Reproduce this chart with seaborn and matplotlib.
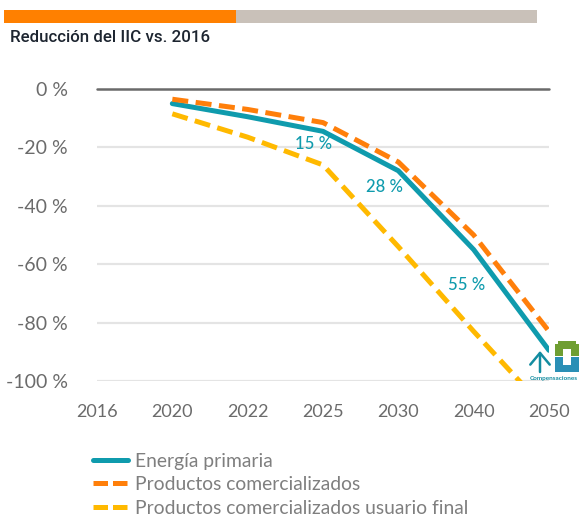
import matplotlib
matplotlib.use("Agg")
import matplotlib.pyplot as plt
from matplotlib.patches import Rectangle, FancyArrowPatch
import pandas as pd
import seaborn as sns

years = ["2016", "2020", "2022", "2025", "2030", "2040", "2050"]
line_years = ["2020", "2022", "2025", "2030", "2040", "2050"]
energia = [-5, -9.5, -14.5, -28, -55, -89.5]
comercial = [-3.5, -7, -11.5, -25, -50, -83]
usuario = [-8.5, -16.5, -26, -54, -83, -111]
yticks = [0, -20, -40, -60, -80, -100]
ylabels = ["0 %", "-20 %", "-40 %", "-60 %", "-80 %", "-100 %"]
notes = [("15 %", "2025", -19, -0.13), ("28 %", "2030", -33.5, -0.18), ("55 %", "2040", -67, -0.09)]
names = ["Energía primaria", "Productos comercializados", "Productos comercializados usuario final"]
colors = ["#0f9bad", "#ff7f0a", "#ffb900"]

W, H = 579, 518
sns.set_theme(style="white")
plt.rcParams["font.family"] = ["Lato", "DejaVu Sans"]
fig = plt.figure(figsize=(W / 100, H / 100), dpi=100, facecolor="white")
ax = fig.add_axes([97 / W, 1 - 381 / H, 452 / W, 292 / H])

df = pd.DataFrame({
    "pos": [years.index(y) for y in line_years] * 3,
    "value": energia + comercial + usuario,
    "serie": [n for n in names for _ in line_years],
})

for v in yticks[1:]:
    ax.axhline(v, color="#e4e4e4", lw=1.6, zorder=1)
ax.axhline(0, color="#6a6a6a", lw=1.8, zorder=1, clip_on=False)

sns.lineplot(data=df, x="pos", y="value", hue="serie", hue_order=names, palette=colors,
             style="serie", style_order=names,
             dashes={names[0]: (None, None), names[1]: (3.2, 1.5), names[2]: (3.2, 1.5)},
             linewidth=3.6, errorbar=None, ax=ax, legend=False, zorder=3)

ax.set_xlim(0, 6)
ax.set_ylim(-100, 0)
ax.set_xlabel("")
ax.set_ylabel("")
ax.set_xticks(range(len(years)))
ax.set_xticklabels(years, fontsize=13, color="#6b6b6b")
ax.set_yticks(yticks)
ax.set_yticklabels(ylabels, fontsize=14, color="#6b6b6b")
ax.tick_params(axis="both", length=0)
ax.tick_params(axis="x", pad=16.5)
ax.tick_params(axis="y", pad=21)
for s in ax.spines.values():
    s.set_visible(False)

for txt, y, val, dx in notes:
    ax.text(years.index(y) + dx, val, txt, color=colors[0], fontsize=12, ha="center",
            va="center", zorder=5, fontweight="medium")

# top band and title
fig.add_artist(Rectangle((4 / W, 1 - 23 / H), 232 / W, 13 / H, transform=fig.transFigure, color="#ff8000", lw=0))
fig.add_artist(Rectangle((236 / W, 1 - 23 / H), 301 / W, 13 / H, transform=fig.transFigure, color="#c9c1b9", lw=0))
fig.text(10 / W, 1 - 37.5 / H, "Reducción del IIC vs. 2016", fontsize=12.2, family=["Roboto", "DejaVu Sans"],
         fontweight="medium", color="#1d2530", va="center", ha="left")

# legend
handles = [plt.Line2D([0], [0], color=colors[0], lw=3.6),
           plt.Line2D([0], [0], color=colors[1], lw=3.6, dashes=(2.9, 1.0)),
           plt.Line2D([0], [0], color=colors[2], lw=3.6, dashes=(2.9, 1.0))]
fig.legend(handles, names, loc="upper left", bbox_to_anchor=(93 / W, 1 - 452.5 / H), frameon=False,
           fontsize=13.9, labelcolor="#7f7f7f", handlelength=1.8, handletextpad=0.36,
           labelspacing=0.34, borderpad=0, borderaxespad=0)

# compensation logo
def box(x0, y0, x1, y1, c):
    fig.add_artist(Rectangle((x0 / W, 1 - y1 / H), (x1 - x0) / W, (y1 - y0) / H,
                             transform=fig.transFigure, fc=c, ec="none"))

fig.add_artist(FancyArrowPatch((540 / W, 1 - 372 / H), (540 / W, 1 - 351 / H),
               transform=fig.transFigure, arrowstyle="->,head_length=6,head_width=5",
               mutation_scale=1.4, color="#138ca0", lw=1.8, shrinkA=0, shrinkB=0))
box(558, 341, 576, 349, "#6f9e32")
box(555, 344, 563, 356, "#6f9e32")
box(571, 344, 579, 356, "#6f9e32")
box(555, 357, 563, 372, "#2a8fb5")
box(571, 357, 579, 372, "#2a8fb5")
box(555, 365, 579, 372, "#2a8fb5")
fig.text(554 / W, 1 - 378.5 / H, "Compensaciones", fontsize=4.6, color="#138ca0", ha="center", va="center",
         fontweight="bold")

fig.savefig("out.png", dpi=100)
